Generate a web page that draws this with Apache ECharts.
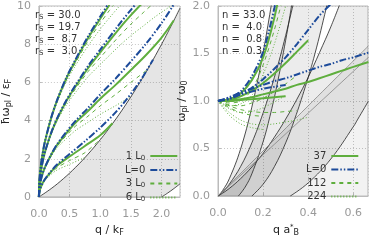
<!DOCTYPE html>
<html><head><meta charset="utf-8">
<script src="https://cdn.jsdelivr.net/npm/echarts@6/dist/echarts.min.js"></script>
<style>html,body{margin:0;padding:0;background:#fff}#c{width:374px;height:242px}</style>
</head><body><div id="c"></div>
<script>
// ================= LEFT PANEL (q/kF , ħω/εF) =================
var rsLabels = ['30.0','19.7',' 8.7',' 3.0'];
var q30 = [0,0.01,0.03,0.06,0.1,0.2,0.3,0.45,0.6,0.8,1.0,1.15,1.3,1.45];
var rs30_L0  = [0,0.92,1.60,2.26,2.92,4.15,5.10,6.27,7.22,8.40,9.45,10.2];
var rs30_1L0 = [0,0.92,1.60,2.26,2.92,4.14,5.08,6.23,7.16,8.31,9.33,10.05];
var rs30_3L0 = [0,0.92,1.60,2.25,2.91,4.12,5.04,6.16,7.05,8.15,9.10,9.77,10.38];
var rs30_6L0 = [0,0.92,1.60,2.25,2.90,4.09,4.98,6.06,6.90,7.90,8.79,9.38,9.94,10.4];
var q19 = [0,0.01,0.03,0.06,0.1,0.2,0.3,0.45,0.6,0.8,1.0,1.3,1.5,1.7,1.9,2.1,2.2];
var rs19_L0  = [0,0.75,1.29,1.83,2.37,3.36,4.14,5.08,5.87,6.85,7.72,9.0,9.8,10.55];
var rs19_1L0 = [0,0.75,1.29,1.83,2.36,3.35,4.11,5.04,5.80,6.74,7.57,8.78,9.52,10.2];
var rs19_3L0 = [0,0.75,1.29,1.82,2.36,3.32,4.07,4.95,5.68,6.56,7.30,8.39,9.05,9.65,10.24];
var rs19_6L0 = [0,0.75,1.28,1.81,2.34,3.28,4.00,4.83,5.49,6.29,6.94,7.88,8.45,8.95,9.45,9.89,10.1];
var q87 = [0,0.01,0.03,0.06,0.1,0.2,0.3,0.45,0.6,0.8,1.0,1.25,1.5,1.75,2.0,2.2];
var rs87_L0  = [0,0.50,0.86,1.22,1.57,2.23,2.78,3.42,4.00,4.66,5.37,6.20,7.10,8.04,9.10,10.08];
var rs87_1L0 = [0,0.50,0.86,1.22,1.56,2.21,2.74,3.35,3.90,4.50,5.14,5.87,6.65,7.45,8.35,9.25];
var rs87_3L0 = [0,0.50,0.86,1.21,1.55,2.17,2.67,3.23,3.72,4.23,4.77,5.37,6.00,6.62];
var rs87_6L0 = [0,0.50,0.85,1.20,1.53,2.12,2.59,3.06,3.49,3.91,4.33,4.78,5.27];
var q3 = [0,0.01,0.03,0.06,0.1,0.2,0.3,0.5,0.75,1.0,1.2,1.4,1.6,1.7,1.86];
var rs3_L0  = [0,0.29,0.50,0.72,0.94,1.36,1.71,2.25,2.92,3.63,4.26,4.99,5.84,6.32,7.18];
var rs3_1L0 = [0,0.29,0.50,0.72,0.93,1.33,1.65,2.12,2.67,3.23,3.86];
var rs3_3L0 = [0,0.29,0.49,0.70,0.91,1.26,1.54,1.91,2.32,3.02];
var rs3_6L0 = [0,0.28,0.48,0.68,0.87,1.19,1.42,1.71,2.07];
// particle-hole continuum edges
var bQ  = [0,0.2,0.4,0.6,0.8,1.0,1.2,1.4,1.6,1.8,2.0,2.1,2.2,2.3];
var bUp = [0,0.44,0.96,1.56,2.24,3.0,3.84,4.76,5.76,6.84,8.0,8.61,9.24,9.89];
var bLo = [0,0,0,0,0,0,0,0,0,0,0,0.21,0.44,0.69];

// ================= RIGHT PANEL (q a*_B , ω/ω0) =================
var nLabels = ['33.0',' 4.0',' 0.8',' 0.3'];
var rQ = [0,0.05,0.1,0.15,0.2,0.25,0.3,0.35,0.4,0.45,0.5,0.55,0.6,0.667];
var r_L0_a = [1,1.03,1.10,1.26,1.52,1.98,2.6];
var r_L0_b = [1,1.02,1.07,1.14,1.23,1.34,1.46,1.60,1.75,1.90,2.02];
var r_L0_c = [1,1.04,1.09,1.13,1.17,1.21,1.24,1.28,1.32,1.36,1.39,1.43,1.46,1.51];
var r_L0_d = [1,1.03,1.07,1.10,1.13,1.15,1.17];
var r_37_a = [1,1.02,1.08,1.22,1.46,1.88,2.45];
var r_37_b = [1,1.01,1.05,1.11,1.19,1.29,1.40,1.52,1.64];
var r_37_c = [1,1.01,1.02,1.04,1.07,1.10,1.13,1.17,1.20,1.24,1.28,1.32,1.36,1.41];
var r_37_d = [1,1.0,1.01,1.02,1.03,1.04,1.05];
var r_112_a = [1,0.98,1.0,1.12,1.38,1.75,2.2];
var r_112_b = [1,0.96,0.95,0.98,1.03,1.10,1.18,1.27];
var r_112_c = [1,0.95,0.91,0.89,0.88,0.88,0.89,0.90];
var r_112_d = [1,0.93,0.88,0.85,0.84];
var r_224_a = [1,0.95,0.97,1.06,1.28,1.6,2.0];
var r_224_b = [1,0.92,0.88,0.89,0.93,0.99,1.06];
var r_224_c = [1,0.88,0.80,0.76,0.75,0.76,0.78,0.80,0.83];
var r_224_d = [1,0.85,0.76,0.72,0.70];
// continuum edges
var cQ = [0,0.02,0.05,0.1,0.15,0.2,0.25,0.3,0.35,0.4,0.45,0.5,0.55,0.6,0.667];
var up03 = [0,0.057,0.182,0.494,0.936,1.51,2.21];
var up08 = [0,0.042,0.125,0.31,0.56,0.875,1.25,1.69,2.19];
var up4  = [0,0.030,0.080,0.183,0.306,0.45,0.62,0.81,1.02,1.25,1.51,1.78,2.08];
var lo03Q = [0.09,0.12,0.15,0.2,0.23,0.26,0.3,0.33,0.35];
var lo03  = [0,0.094,0.234,0.572,0.837,1.15,1.64,2.06,2.37];
var lo08Q = [0.15,0.2,0.25,0.3,0.34,0.387,0.43,0.48,0.5];
var lo08  = [0,0.125,0.31,0.56,0.81,1.15,1.50,1.98,2.19];
var lo4Q  = [0.32,0.4,0.5,0.6,0.62,0.667];
var lo4   = [0,0.139,0.39,0.73,0.81,1.0];
var g1Q = [0,0.4,0.667], g1 = [0,0.95,1.58];
var g2Q = [0,0.33,0.667], g2 = [0,0.72,1.46];

// ================= build =================
var GREEN = '#5fae3e', BLUE = '#1d4b9a';
function pts(qs, ys){ var o=[]; for(var i=0;i<ys.length;i++) o.push([qs[i],ys[i]]); return o; }
var series = [];
function band(ax, upper, lower, color){
  series.push({type:'custom', xAxisIndex:ax, yAxisIndex:ax, silent:true, clip:true, z:1, data:[0],
    renderItem:function(params, api){
      var p = [];
      upper.forEach(function(d){ p.push(api.coord(d)); });
      lower.slice().reverse().forEach(function(d){ p.push(api.coord(d)); });
      return {type:'polygon', shape:{points:p}, style:{fill:color, stroke:null}};
    }});
}
function bline(ax, data, color, w){
  series.push({type:'line', xAxisIndex:ax, yAxisIndex:ax, symbol:'none', smooth:0.4, silent:true,
    data:data, lineStyle:{color:color||'#222', width:w||0.8}, z:3, clip:true});
}
var sSolid = {color:GREEN,width:2};
var sDashDot = {color:BLUE,width:2,type:[7,2,1.5,2,1.5,2]};
var sDash = {color:GREEN,width:1,type:[4,4]};
var sDot = {color:GREEN,width:1,type:[1,2]};
function curve(ax, qs, ys, name, style){
  series.push({type:'line', name:name, xAxisIndex:ax, yAxisIndex:ax, symbol:'none', smooth:0.3,
    data: pts(qs,ys), lineStyle:style, z:5, clip:true});
}
// left continuum
band(0, pts(bQ,bUp), pts(bQ,bLo), 'rgba(0,0,0,0.10)');
bline(0, pts(bQ,bUp));
bline(0, pts(bQ.slice(10),bLo.slice(10)));
[[q30,rs30_6L0],[q19,rs19_6L0],[q87,rs87_6L0],[q3,rs3_6L0]].forEach(function(c){curve(0,c[0],c[1],'6L0',sDot);});
[[q30,rs30_3L0],[q19,rs19_3L0],[q87,rs87_3L0],[q3,rs3_3L0]].forEach(function(c){curve(0,c[0],c[1],'3L0',sDash);});
[[q30,rs30_1L0],[q19,rs19_1L0],[q87,rs87_1L0],[q3,rs3_1L0]].forEach(function(c){curve(0,c[0],c[1],'1L0',sSolid);});
[[q30,rs30_L0],[q19,rs19_L0],[q87,rs87_L0],[q3,rs3_L0]].forEach(function(c){curve(0,c[0],c[1],'L=0',sDashDot);});

// right continua
var U03 = pts(cQ,up03), U08 = pts(cQ,up08), U4 = pts(cQ,up4);
var L03 = pts(lo03Q,lo03), L08 = pts(lo08Q,lo08), L4 = pts(lo4Q,lo4);
var G1 = pts(g1Q,g1), G2 = pts(g2Q,g2);
var fill = 'rgba(0,0,0,0.075)';
band(1, U03, [[0,0]].concat(L03), fill);
band(1, U08, [[0,0]].concat(L08), fill);
band(1, U4.concat([[0.667,2.6]]), [[0,0]].concat(L4).concat([[0.667,2.6]]), fill);
band(1, G1, [[0,0],[0.667,0]], 'rgba(0,0,0,0.05)');
[U03,U08,U4,L03,L08,L4].forEach(function(d){ bline(1,d); });
bline(1, G1, '#777', 0.7);
bline(1, G2, '#777', 0.7);

[r_224_a,r_224_b,r_224_c,r_224_d].forEach(function(a){curve(1,rQ,a,'224',sDot);});
[r_112_a,r_112_b,r_112_c,r_112_d].forEach(function(a){curve(1,rQ,a,'112',sDash);});
[r_37_a,r_37_b,r_37_c,r_37_d].forEach(function(a){curve(1,rQ,a,'37',sSolid);});
[r_L0_a,r_L0_b,r_L0_c,r_L0_d].forEach(function(a){curve(1,rQ,a,'L=0 ',sDashDot);});

var axLab = {color:'#999', fontSize:11, fontFamily:'DejaVu Sans'};
var gridLine = {show:true, lineStyle:{color:'#c8c8c8', type:[1,2], width:1}};
var axLine = {show:true, lineStyle:{color:'#bbb'}};
var nameRich = {s:{fontSize:8,padding:[5,0,0,0],color:'#222',fontFamily:'DejaVu Sans'}, t:{fontSize:7, padding:[0,0,6,0], color:'#222',fontFamily:'DejaVu Sans'}};
function xAx(gi, max, itv, name, pad){
  return {type:'value', gridIndex:gi, min:0, max:max, interval:itv, axisLine:axLine,
    axisTick:{show:true, inside:true, length:3, lineStyle:{color:'#bbb'}},
    axisLabel:Object.assign({formatter:function(v){return v.toFixed(1);}, showMaxLabel:false, margin:12}, axLab),
    splitLine:gridLine, name:name, nameLocation:'middle', nameGap:27,
    nameTextStyle:{fontSize:11, fontFamily:'DejaVu Sans', color:'#222', rich:nameRich, padding:pad||0}};
}
function yAx(gi, max, itv, fmt, name, gap){
  return {type:'value', gridIndex:gi, min:0, max:max, interval:itv, axisLine:axLine,
    axisTick:{show:true, inside:true, length:3, lineStyle:{color:'#bbb'}},
    axisLabel:Object.assign({formatter:fmt, margin:8}, axLab),
    splitLine:gridLine, name:name, nameLocation:'middle', nameGap:gap, nameRotate:90,
    nameTextStyle:{fontSize:11, fontFamily:'DejaVu Sans', color:'#222', rich:nameRich}};
}
var legText = {fontSize:10, fontFamily:'DejaVu Sans', color:'#333', rich:{s:{fontSize:7,padding:[4,0,0,0],color:'#333',fontFamily:'DejaVu Sans'}}};
var option = {
  animation:false,
  grid:[{left:30, top:6, width:150, height:193, show:true, borderColor:'#bbb', borderWidth:1, backgroundColor:'transparent'},
        {left:218, top:6, width:150, height:194, show:true, borderColor:'#bbb', borderWidth:1, backgroundColor:'transparent'}],
  xAxis:[xAx(0, 2.3, 0.5, 'q / k{s|F}'),
         xAx(1, 0.665, 0.2, 'q a{t|*}{s|B}', [0,14,0,0])],
  yAxis:[yAx(0, 10, 2, function(v){return String(v);}, 'ħω{s|pl} / ε{s|F}', 19),
         yAx(1, 2, 0.5, function(v){return v.toFixed(1);}, 'ω{s|pl} / ω{s|0}', 24)],
  legend:[
    {data:['1L0','L=0','3L0','6L0'], orient:'vertical', left:120, top:146, itemWidth:27, itemHeight:8, itemGap:3.5, align:'right',
     itemStyle:{opacity:0}, formatter:function(n){return {'1L0':'1 L{s|0}','L=0':'L=0','3L0':'3 L{s|0}','6L0':'6 L{s|0}'}[n];},
     textStyle:legText},
    {data:['37','L=0 ','112','224'], orient:'vertical', left:301, top:146, itemWidth:27, itemHeight:8, itemGap:3.5, align:'right',
     itemStyle:{opacity:0}, formatter:function(n){return n.trim();}, textStyle:legText}
  ],
  graphic:[
    {type:'text', left:35, top:10, z:10, style:{text:rsLabels.map(function(r){return '{n|r}{s|S}{n| = '+r+'}';}).join('\n'),
      rich:{n:{fontSize:10, fontFamily:'DejaVu Sans', fill:'#333', lineHeight:12}, s:{fontSize:7, fontFamily:'DejaVu Sans', fill:'#333', lineHeight:12, padding:[4,0,0,0]}}}},
    {type:'text', left:222, top:10, z:10, style:{text:nLabels.map(function(r){return '{n|n = '+r+'}';}).join('\n'),
      rich:{n:{fontSize:10, fontFamily:'DejaVu Sans', fill:'#333', lineHeight:12}}}}
  ],
  series:series
};
var chart = echarts.init(document.getElementById('c'));
chart.setOption(option);
</script></body></html>
